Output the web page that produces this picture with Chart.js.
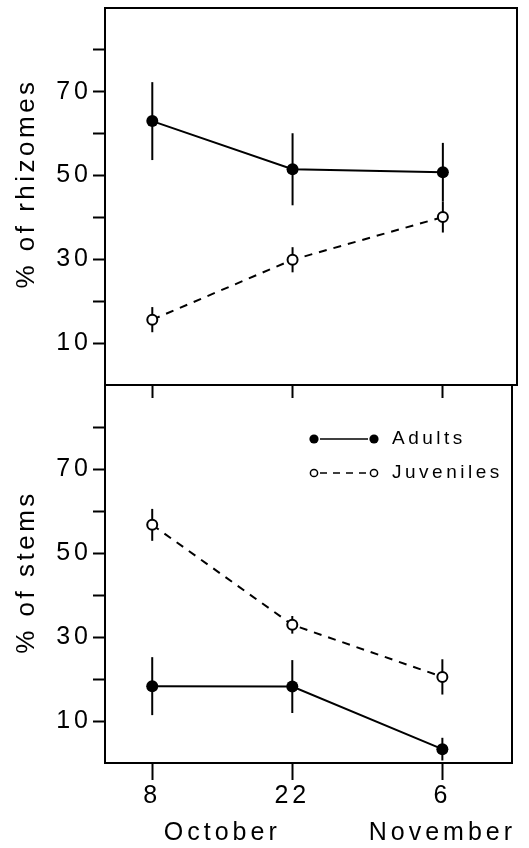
<!DOCTYPE html>
<html>
<head>
<meta charset="utf-8">
<script src="https://cdn.jsdelivr.net/npm/chart.js@4.4.0/dist/chart.umd.min.js"></script>
<style>
  html, body { margin:0; padding:0; background:#fff; }
  #wrap { position:relative; width:529px; height:848px; }
  #wrap canvas { position:absolute; left:0; }
  #cTop { top:0; }
  #cBot { top:375px; }
</style>
</head>
<body>
<div id="wrap">
  <canvas id="cTop" width="529" height="400"></canvas>
  <canvas id="cBot" width="529" height="473"></canvas>
</div>
<script>
// sampling dates
const dayLabels = ['8', '22', '6'];
const monthNames = ['October', 'October', 'November'];
const days = [0, 14, 29]; // days after 8 October
const yTicks = [10, 20, 30, 40, 50, 60, 70, 80];
const yLabelled = [10, 30, 50, 70];

// % of rhizomes (mean, error)
const rhizAdults = [63.0, 51.5, 50.8];
const rhizAdultsErr = [9.3, 8.6, 7.0];
const rhizJuv = [15.6, 29.9, 40.1];
const rhizJuvErr = [3.0, 3.0, 3.7];

// % of stems (mean, error)
const stemAdults = [18.3, 18.2, 3.3];
const stemAdultsErr = [6.9, 6.3, 2.7];
const stemJuv = [56.7, 32.9, 20.5];
const stemJuvErr = [3.8, 2.1, 4.2];

const FONT = "'Liberation Sans', Arial, Helvetica, sans-serif";

const months = [...new Set(monthNames)];
const monthPos = months.map(m => {
    const d = days.filter((_, i) => monthNames[i] === m);
    return d.reduce((a, b) => a + b, 0) / d.length;
});

const pts = vals => days.map((d, i) => ({x: d, y: vals[i]}));

function adultSet(vals, errs){
    return { label:'Adults', data:pts(vals), errors:errs, borderColor:'#000', borderWidth:2,
        pointRadius:6, pointBackgroundColor:'#000', pointBorderColor:'#000', pointBorderWidth:0, tension:0 };
}
function juvSet(vals, errs){
    return { label:'Juveniles', data:pts(vals), errors:errs, borderColor:'#000', borderWidth:2, borderDash:[8,7],
        pointRadius:5, pointBackgroundColor:'#fff', pointBorderColor:'#000', pointBorderWidth:2, tension:0 };
}

// letter spacing for the library's own tick text
const spacing = {
    id:'spacing',
    beforeDraw(chart){ chart.ctx.letterSpacing = '4px'; }
};

const errorBars = {
    id:'errorBars',
    beforeDatasetsDraw(chart){
        const {ctx, scales:{x, y}} = chart;
        ctx.save();
        ctx.strokeStyle = '#000';
        ctx.lineWidth = 2;
        chart.data.datasets.forEach(ds => {
            ds.data.forEach((p, i) => {
                const px = x.getPixelForValue(p.x);
                ctx.beginPath();
                ctx.moveTo(px, y.getPixelForValue(p.y - ds.errors[i]));
                ctx.lineTo(px, y.getPixelForValue(p.y + ds.errors[i]));
                ctx.stroke();
            });
        });
        ctx.restore();
    }
};

const frame = {
    id:'frame',
    afterDraw(chart){
        const {ctx, chartArea:a} = chart;
        ctx.save();
        ctx.strokeStyle = '#000';
        ctx.lineWidth = 2;
        ctx.strokeRect(a.left, a.top, a.right - a.left, a.bottom - a.top);
        ctx.restore();
    }
};

const yTitle = {
    id:'yTitle',
    afterDraw(chart, args, o){
        const {ctx, chartArea:a} = chart;
        ctx.save();
        ctx.letterSpacing = '3.5px';
        ctx.font = '26px ' + FONT;
        ctx.fillStyle = '#000';
        ctx.translate(o.x, (a.top + a.bottom) / 2 + o.shift);
        ctx.rotate(-Math.PI / 2);
        ctx.textAlign = 'center';
        ctx.textBaseline = 'alphabetic';
        ctx.fillText(o.text, 0, 0);
        ctx.restore();
    }
};

const legendBox = {
    id:'legendBox',
    afterDraw(chart, args, o){
        if(!o.show) return;
        const {ctx, chartArea:a} = chart;
        ctx.save();
        ctx.font = '19px ' + FONT;
        ctx.letterSpacing = '3.5px';
        ctx.textBaseline = 'middle';
        ctx.fillStyle = '#000';
        ctx.strokeStyle = '#000';
        const x1 = a.right - 198, x2 = a.right - 138, tx = a.right - 120;
        chart.data.datasets.forEach((ds, i) => {
            const yy = a.top + 54 + i * 34;
            ctx.lineWidth = 1.5;
            ctx.setLineDash(ds.borderDash ? [7, 6] : []);
            ctx.beginPath(); ctx.moveTo(x1 + 6, yy); ctx.lineTo(x2 - 6, yy); ctx.stroke();
            ctx.setLineDash([]);
            [x1, x2].forEach(cx => {
                ctx.beginPath();
                if(ds.borderDash){
                    ctx.arc(cx, yy, 3.6, 0, Math.PI * 2);
                    ctx.fillStyle = '#fff'; ctx.fill(); ctx.stroke();
                } else {
                    ctx.arc(cx, yy, 4.6, 0, Math.PI * 2);
                    ctx.fillStyle = '#000'; ctx.fill();
                }
            });
            ctx.fillStyle = '#000';
            ctx.fillText(ds.label, tx, yy);
        });
        ctx.restore();
    }
};

function yScale(){
    return {
        type:'linear', position:'left', min:0, max:90,
        afterBuildTicks: s => { s.ticks = yTicks.map(v => ({value:v})); },
        ticks:{ callback: v => yLabelled.includes(v) ? String(v) : '', color:'#000',
            font:{family:FONT, size:25}, padding:1 },
        grid:{ display:true, drawOnChartArea:false, drawTicks:true, tickLength:12, tickWidth:2, tickColor:'#000' },
        border:{ display:false },
        afterFit: s => { s.width = 105; s.paddingTop = 0; s.paddingBottom = 0; }
    };
}

function makeChart(id, sets, opts){
    const scales = {
        x:{
            type:'linear', position:'bottom', min:-4.72, max:opts.xmax, weight:0,
            afterBuildTicks: s => { s.ticks = days.map(v => ({value:v})); },
            ticks:{ display:opts.bottom, callback: v => dayLabels[days.indexOf(v)], color:'#000',
                font:{family:FONT, size:25}, padding:1, maxRotation:0, autoSkip:false },
            grid:{ display:true, drawOnChartArea:false, drawTicks:true, tickLength:opts.tickLen, tickWidth:2, tickColor:'#000' },
            border:{ display:false },
            afterFit: s => { s.height = opts.xHeight; s.paddingLeft = 0; s.paddingRight = 0; }
        },
        y: yScale()
    };
    if(opts.bottom){
        scales.xm = {
            type:'linear', position:'bottom', min:-4.72, max:opts.xmax, weight:1,
            afterBuildTicks: s => { s.ticks = monthPos.map(v => ({value:v})); },
            ticks:{ callback: v => months[monthPos.indexOf(v)], color:'#000',
                font:{family:FONT, size:25}, padding:10, maxRotation:0, autoSkip:false },
            grid:{ display:false, drawTicks:false },
            border:{ display:false },
            afterFit: s => { s.height = 40; s.paddingLeft = 0; s.paddingRight = 0; }
        };
    }
    return new Chart(document.getElementById(id), {
        type:'line',
        data:{ datasets:sets },
        options:{
            responsive:false, animation:false,
            layout:{ padding:{ top:opts.padTop, right:opts.padRight, left:0, bottom:0 } },
            scales:scales,
            plugins:{
                legend:{ display:false }, tooltip:{ enabled:false },
                yTitle:{ text:opts.title, x:34, shift:opts.titleShift },
                legendBox:{ show:opts.bottom }
            }
        },
        plugins:[spacing, errorBars, frame, yTitle, legendBox]
    });
}

makeChart('cTop', [adultSet(rhizAdults, rhizAdultsErr), juvSet(rhizJuv, rhizJuvErr)],
    { xmax:36.4, bottom:false, tickLen:13, xHeight:15, padTop:8, padRight:12, title:'% of rhizomes', titleShift:-13 });
makeChart('cBot', [adultSet(stemAdults, stemAdultsErr), juvSet(stemJuv, stemJuvErr)],
    { xmax:35.96, bottom:true, tickLen:17, xHeight:45, padTop:10, padRight:17, title:'% of stems', titleShift:-2 });
</script>
</body>
</html>
